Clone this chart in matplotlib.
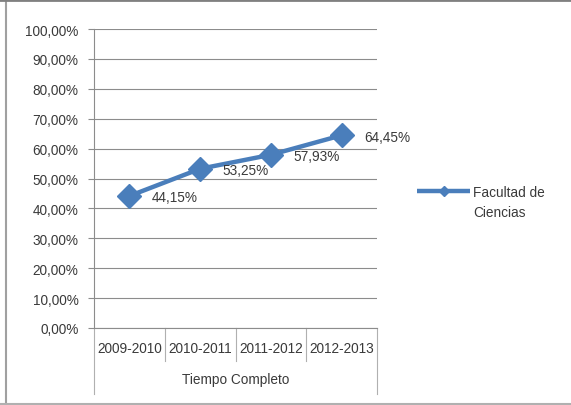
import matplotlib.pyplot as plt
from matplotlib.lines import Line2D
from matplotlib.ticker import FuncFormatter
import matplotlib.transforms as mtransforms

categories = [ '2009-2010', '2010-2011', '2011-2012', '2012-2013' ]
group_label = 'Tiempo Completo'
series_name = [ 'Facultad de', 'Ciencias' ]
values = [ 44.15, 53.25, 57.93, 64.45 ]
y_ticks = [ 0, 10, 20, 30, 40, 50, 60, 70, 80, 90, 100 ]

W, H = 571, 406
blue = '#4A7EBB'
grid_c = '#8c8c8c'
txt_c = '#3a3a3a'
fs = 9.8

plt.rcParams['font.family'] = [ 'Liberation Sans', 'DejaVu Sans' ]

fig = plt.figure( figsize = ( W / 100, H / 100 ), dpi = 100 )
ax = fig.add_axes( [ 94 / W, 77 / H, ( 377 - 94 ) / W, ( 329 - 30 ) / H ] )

x = list( range( len( categories ) ) )
ax.plot( x, values, color = blue, linewidth = 3.2, marker = 'D', markersize = 12,
         markerfacecolor = blue, markeredgecolor = blue, label = series_name[ 0 ],
         solid_capstyle = 'butt' )

for xi, v in zip( x, values ):
    ax.annotate( f'{v:.2f}%'.replace( '.', ',' ), ( xi, v ), xytext = ( 16, -1 ),
                 textcoords = 'offset points', ha = 'left', va = 'center',
                 fontsize = fs, color = txt_c )

ax.set_xlim( -0.5, len( categories ) - 0.5 )
ax.set_ylim( 0, 100 )
ax.set_yticks( y_ticks )
ax.yaxis.set_major_formatter( FuncFormatter( lambda v, p: f'{v:.2f}%'.replace( '.', ',' ) ) )
ax.tick_params( axis = 'y', direction = 'out', length = 4, width = 0.8, color = grid_c,
                labelsize = fs, labelcolor = txt_c, pad = 7 )
ax.set_xticks( [] )
ax.grid( axis = 'y', color = grid_c, linewidth = 0.8 )
ax.set_axisbelow( True )

for s in [ 'top', 'right' ]:
    ax.spines[ s ].set_visible( False )
for s in [ 'left', 'bottom' ]:
    ax.spines[ s ].set_color( grid_c )
    ax.spines[ s ].set_linewidth( 0.8 )

# multi-level category axis
trans = mtransforms.blended_transform_factory( ax.transData, ax.transAxes )
ax_h = ( 329 - 30 )
n = len( categories )
for i in range( n + 1 ):
    b = i - 0.5
    depth = 66 if i in ( 0, n ) else 33
    ax.add_line( Line2D( [ b, b ], [ 0, -depth / ax_h ], transform = trans,
                         color = '#b0b0b0', linewidth = 0.8, clip_on = False ) )
for xi, c in zip( x, categories ):
    ax.text( xi, -20 / ax_h, c, transform = trans, ha = 'center', va = 'center',
             fontsize = fs, color = txt_c )
ax.text( ( n - 1 ) / 2, -51 / ax_h, group_label, transform = trans, ha = 'center',
         va = 'center', fontsize = fs, color = txt_c )

leg = fig.legend( loc = 'center left', bbox_to_anchor = ( 405 / W, 1 - 193 / H ),
                  frameon = False, fontsize = fs, handlelength = 3.9,
                  handletextpad = 0.2, markerscale = 0.4 )
for t in leg.get_texts():
    t.set_color( txt_c )

# second line of the legend label, under the first
fig.canvas.draw()
bb = leg.get_texts()[ 0 ].get_window_extent()
fig.text( bb.x0 / W, ( bb.y0 + bb.y1 ) / 2 / H - 20 / H, series_name[ 1 ],
          ha = 'left', va = 'center', fontsize = fs, color = txt_c )

# outer frame
fig.add_artist( Line2D( [ 6 / W, 6 / W ], [ 0, 1 ], color = '#a0a0a0', linewidth = 1.5 ) )
fig.add_artist( Line2D( [ 0, 1 ], [ 1 - 1 / H, 1 - 1 / H ], color = '#808080', linewidth = 2 ) )
fig.add_artist( Line2D( [ 0, 1 ], [ 1.5 / H, 1.5 / H ], color = '#b0b0b0', linewidth = 1.5 ) )

fig.savefig( 'out.png', dpi = 100 )
